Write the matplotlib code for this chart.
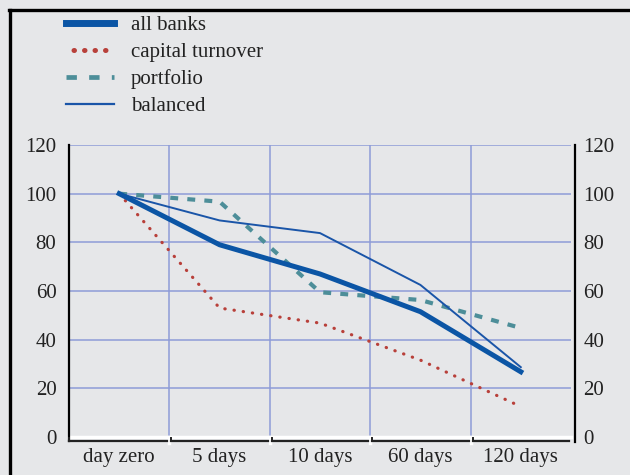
import matplotlib
matplotlib.use("Agg")
import matplotlib.pyplot as plt
import matplotlib.transforms as mtransforms
from matplotlib.lines import Line2D

categories = ["day zero", "5 days", "10 days", "60 days", "120 days"]
all_banks = [100, 79, 67, 51.5, 26.8]
capital_turnover = [100, 53, 46.8, 31.6, 12.5]
portfolio = [100, 96.7, 59.5, 56.3, 44.8]
balanced = [100, 89, 83.8, 62.5, 28.7]
y_ticks = [0, 20, 40, 60, 80, 100, 120]

bg = "#e6e7e9"
grid_c = "#8e9cd8"
c_all = "#0b55a5"
c_cap = "#b8403a"
c_port = "#4d8e99"
c_bal = "#1a55a8"
txt = "#222222"

plt.rcParams["font.family"] = ["Liberation Serif", "DejaVu Serif"]

fig = plt.figure(figsize=(6.3, 4.75), dpi=100, facecolor=bg)
ax = fig.add_axes([69/630, 1-437/475, (571-69)/630, (437-145)/475], facecolor=bg)

x = list(range(len(categories)))
ax.set_xlim(-0.5, len(categories) - 0.5)
ax.set_ylim(0, 120)

# grid
for yv in y_ticks[1:]:
    ax.axhline(yv, color=grid_c, lw=1.1, zorder=1)
for b in range(1, len(categories)):
    ax.axvline(b - 0.5, color=grid_c, lw=1.1, zorder=1)

l_cap, = ax.plot(x, capital_turnover, color=c_cap, lw=2.3, linestyle=(0, (0.1, 2.8)),
                 dash_capstyle="round", zorder=3, label="capital turnover")
l_port, = ax.plot(x, portfolio, color=c_port, lw=3.0, linestyle=(0, (1.9, 2.2)), zorder=3,
                  label="portfolio")
l_bal, = ax.plot(x, balanced, color=c_bal, lw=1.4, zorder=4, label="balanced")
l_all, = ax.plot(x, all_banks, color=c_all, lw=3.6, zorder=5, label="all banks")

for s in ax.spines.values():
    s.set_visible(False)

# white baseline
ax.plot([0, 1], [0, 0], transform=ax.transAxes, color="white", lw=2.5, clip_on=False, zorder=2)

# left & right black axis lines
ax.plot([0, 0], [-0.014, 1], transform=ax.transAxes, color="black", lw=1.6, clip_on=False, zorder=6)
ax.plot([1.008, 1.008], [-0.017, 1], transform=ax.transAxes, color="black", lw=1.6, clip_on=False, zorder=6)

# brackets under categories
trans = mtransforms.blended_transform_factory(ax.transData, ax.transAxes)
yb = -0.014
for i in range(len(categories)):
    x0 = i - 0.5 + (0.02 if i > 0 else 0.0)
    x1 = i + 0.5 - 0.02
    ax.plot([x0, x1], [yb, yb], transform=trans, color="#222222", lw=1.6, clip_on=False, zorder=6)
    ax.plot([x0, x0], [yb, yb + 0.012], transform=trans, color="#222222", lw=1.4, clip_on=False, zorder=6)
# white gaps at boundaries
for b in range(1, len(categories)):
    ax.plot([b - 0.5, b - 0.5], [yb - 0.006, 0], transform=trans, color="white", lw=2.5,
            clip_on=False, zorder=5)

ax.set_xticks(x)
ax.set_xticklabels(categories)
ax.set_yticks(y_ticks)
ax.set_yticklabels([str(v) for v in y_ticks])
ax.tick_params(axis="both", length=0, labelsize=15, colors=txt)
ax.tick_params(axis="x", pad=8)
ax.tick_params(axis="y", pad=9, labelright=True, labelleft=True)

labels = ["all banks", "capital turnover", "portfolio", "balanced"]
proxy = [Line2D([], [], color=c_all, lw=5),
         Line2D([], [], color=c_cap, lw=3.6, linestyle=(0.6, (0.1, 2.0)), dash_capstyle="round"),
         Line2D([], [], color=c_port, lw=3.4, linestyle=(0, (2.2, 2.6))),
         Line2D([], [], color=c_bal, lw=1.6)]
leg = fig.legend(proxy, labels, loc="upper left", bbox_to_anchor=(58/630, 1 - 7/475),
                 frameon=False, fontsize=15, handlelength=2.3, handletextpad=0.8,
                 labelspacing=0.36, borderaxespad=0)
for t in leg.get_texts():
    t.set_color(txt)

# figure border (top and left)
fig.add_artist(Line2D([9/630, 1], [1 - 9.5/475, 1 - 9.5/475], transform=fig.transFigure,
                      color="black", lw=2.4))
fig.add_artist(Line2D([9.5/630, 9.5/630], [0, 1 - 9.5/475], transform=fig.transFigure,
                      color="black", lw=2.4))

fig.savefig("out.png", dpi=100, facecolor=bg)
